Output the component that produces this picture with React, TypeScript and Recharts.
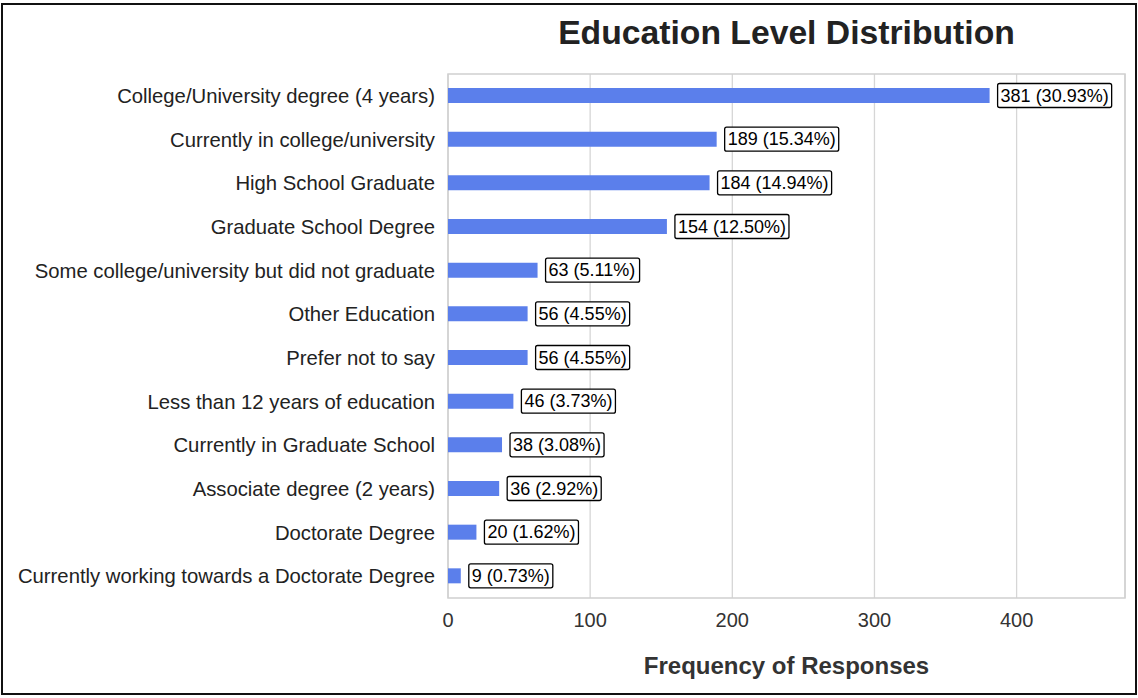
import React from 'react';
import { BarChart, Bar, XAxis, YAxis, CartesianGrid, ReferenceArea } from 'recharts';

const categories = [
  'College/University degree (4 years)',
  'Currently in college/university',
  'High School Graduate',
  'Graduate School Degree',
  'Some college/university but did not graduate',
  'Other Education',
  'Prefer not to say',
  'Less than 12 years of education',
  'Currently in Graduate School',
  'Associate degree (2 years)',
  'Doctorate Degree',
  'Currently working towards a Doctorate Degree',
];
const counts = [381, 189, 184, 154, 63, 56, 56, 46, 38, 36, 20, 9];
const percentLabels = ['30.93%', '15.34%', '14.94%', '12.50%', '5.11%', '4.55%', '4.55%', '3.73%', '3.08%', '2.92%', '1.62%', '0.73%'];
const xTicks = [0, 100, 200, 300, 400];
const X_MAX = 381 * 1.25;

const data = categories.map((name, i) => ({ name, count: counts[i], label: `${counts[i]} (${percentLabels[i]})` }));

const FONT = '"Liberation Sans", Arial, Helvetica, sans-serif';

const cw: Record<string, number> = { ' ': 0.278, '(': 0.333, ')': 0.333, '.': 0.278, '%': 0.889 };
const textWidth = (s: string, size: number) =>
  s.split('').reduce((a, c) => a + (cw[c] !== undefined ? cw[c] : 0.556), 0) * size;

const BoxLabel = (props: any) => {
  const { x, y, width, height, index } = props;
  const text = data[index].label;
  const fs = 18;
  const tw = textWidth(text, fs);
  const bx = x + width + 8;
  const bh = 24;
  const cy = y + height / 2;
  return (
    <g>
      <rect x={bx} y={cy - bh / 2} width={tw + 6} height={bh} rx={2} ry={2} fill="#fff" stroke="#000" strokeWidth={1.3} />
      <text x={bx + 3} y={cy} dy="0.35em" fontSize={fs} fontFamily={FONT} fill="#000">{text}</text>
    </g>
  );
};

export default function App() {
  return (
    <div style={{ position: 'absolute', left: 0, top: 0, width: 1138, height: 698, background: '#fff', fontFamily: FONT }}>
      <BarChart
        width={1138}
        height={698}
        data={data}
        layout="vertical"
        margin={{ top: 74, right: 13, bottom: 40, left: 0 }}
      >
        <CartesianGrid horizontal={false} stroke="#d6d6d6" strokeWidth={1.3} />
        <ReferenceArea x1={0} x2={X_MAX} fill="none" stroke="#d0d0d0" strokeWidth={1.5} ifOverflow="visible" />
        <XAxis
          type="number"
          domain={[0, X_MAX]}
          ticks={xTicks}
          height={60}
          axisLine={false}
          tickLine={false}
          tickSize={6}
          tickMargin={9}
          tick={{ fill: '#333', fontSize: 20, fontFamily: FONT }}
        />
        <YAxis
          type="category"
          dataKey="name"
          width={448}
          axisLine={false}
          tickLine={false}
          tickSize={6}
          tickMargin={7}
          interval={0}
          tick={{ fill: '#222', fontSize: 20.3, fontFamily: FONT }}
        />
        <Bar dataKey="count" fill="#5B7FEB" barSize={15} isAnimationActive={false} label={BoxLabel} />
      </BarChart>
      <div style={{ position: 'absolute', left: 448, top: 15, width: 677, textAlign: 'center', fontSize: 33.7, lineHeight: '34px', fontWeight: 'bold', color: '#222' }}>
        Education Level Distribution
      </div>
      <div style={{ position: 'absolute', left: 448, top: 654, width: 677, textAlign: 'center', fontSize: 24, lineHeight: '24px', fontWeight: 'bold', color: '#333' }}>
        Frequency of Responses
      </div>
      <div style={{ position: 'absolute', left: 1, top: 3, width: 1136, height: 692, border: '2px solid #111', boxSizing: 'border-box', pointerEvents: 'none' }} />
    </div>
  );
}
